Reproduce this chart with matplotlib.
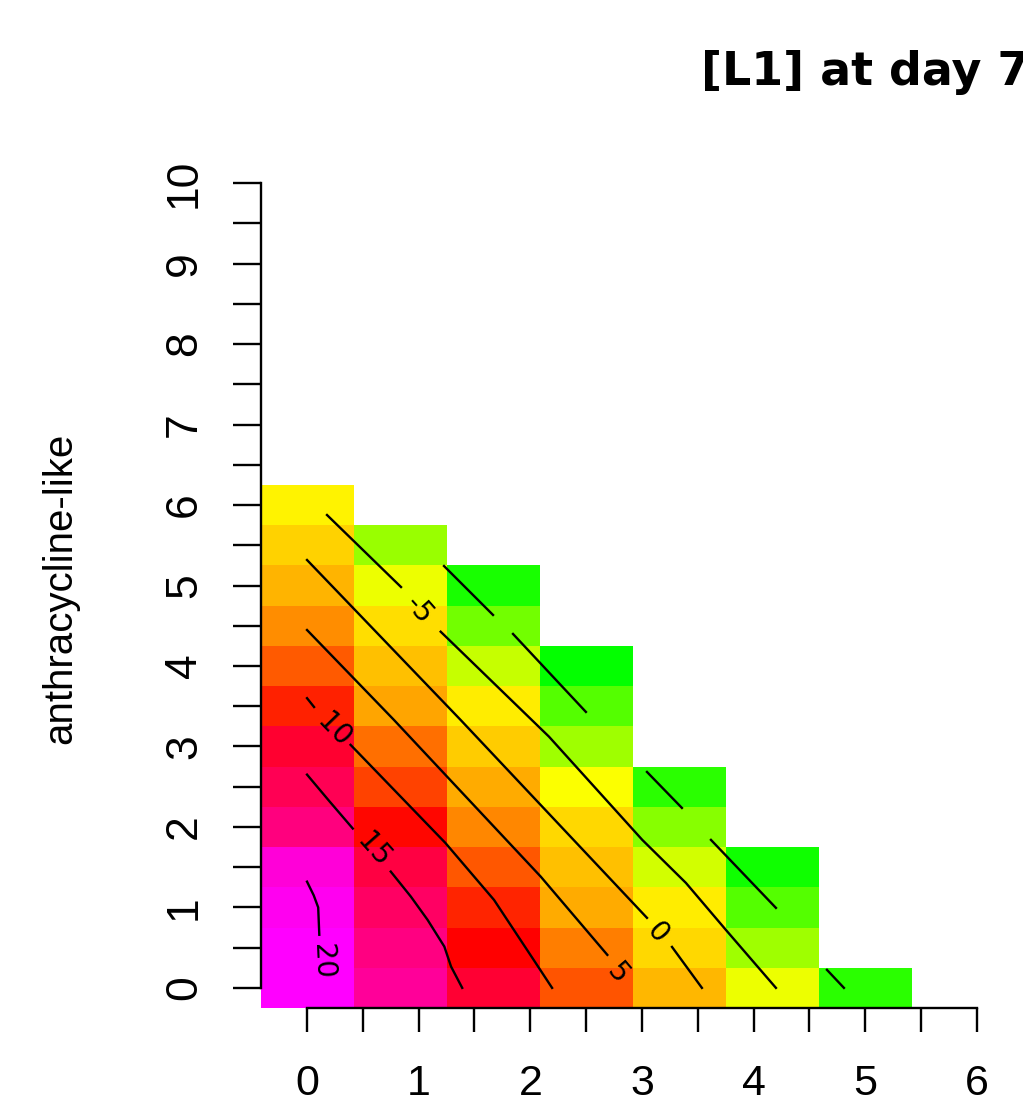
import numpy as np
import matplotlib
matplotlib.use("Agg")
import matplotlib.pyplot as plt
from matplotlib.colors import LinearSegmentedColormap

# dose grid (cell centres)
x_dose = [0.0, 0.833, 1.667, 2.5, 3.333, 4.167, 5.0]
y_dose = [0.0, 0.5, 1.0, 1.5, 2.0, 2.5, 3.0, 3.5, 4.0, 4.5, 5.0, 5.5, 6.0]

# [L1] at day 7, one list per x column, bottom -> top (cells above are empty)
L1_col0 = [20.0, 20.0, 19.4, 18.4, 14.9, 13.3, 11.9, 8.7, 6.5, 4.5, 3.0, 1.8, 0.5]
L1_col1 = [16.0, 15.0, 13.8, 12.6, 9.7, 7.4, 5.6, 3.5, 2.5, 1.3, -0.7, -4.0]
L1_col2 = [12.0, 10.0, 8.6, 6.6, 4.7, 3.3, 2.0, 0.7, -2.2, -5.5, -9.0]
L1_col3 = [6.7, 5.0, 3.3, 2.5, 1.5, -0.1, -3.7, -6.7, -9.8]
L1_col4 = [2.8, 1.6, 0.7, -1.7, -4.7, -8.3]
L1_col5 = [-0.7, -3.7, -6.7, -9.4]
L1_col6 = [-8.3]

# contour lines (label position, then the drawn pieces)
c20_lab = (0.137, 0.33)
c20 = [[(0.0, 1.32), (0.06, 1.15), (0.10, 1.0), (0.11, 0.66)]]
c15_lab = (0.60, 1.714)
c15 = [[(0.0, 2.65), (0.2, 2.32), (0.41, 1.98)],
       [(0.75, 1.445), (0.93, 1.134), (1.08, 0.845), (1.23, 0.513), (1.29, 0.265), (1.39, 0.0)]]
c10_lab = (0.242, 3.205)
c10 = [[(0.0, 3.60), (0.063, 3.49)],
       [(0.39, 3.02), (1.24, 1.80), (1.675, 1.093), (2.03, 0.348), (2.195, 0.0)]]
c5_lab = (2.779, 0.182)
c5 = [[(0.0, 4.447), (0.779, 3.329), (2.093, 1.383), (2.69, 0.41)]]
c0_lab = (3.134, 0.683)
c0 = [[(0.0, 5.317), (1.376, 3.329), (3.045, 0.87)],
      [(3.269, 0.509), (3.537, 0.0)]]
cm5_lab = (1.003, 4.696)
cm5 = [[(0.179, 5.876), (0.842, 4.981)],
       [(1.197, 4.426), (2.167, 3.122), (3.003, 1.839), (3.394, 1.304), (3.752, 0.72), (4.2, 0.0)]]
cm10 = [[(1.227, 5.242), (1.666, 4.634)], [(1.845, 4.398), (2.498, 3.429)],
        [(3.045, 2.683), (3.358, 2.236)], [(3.618, 1.839), (4.2, 0.994)],
        [(4.657, 0.224), (4.809, 0.0)]]

contours = [(20, c20, c20_lab), (15, c15, c15_lab), (10, c10, c10_lab), (5, c5, c5_lab),
            (0, c0, c0_lab), (-5, cm5, cm5_lab), (-10, cm10, None)]

W, H = 1023, 1107
fig = plt.figure(figsize=(W / 100, H / 100), dpi=100)
# plot region runs on past the right edge (the original is cropped there)
ax = fig.add_axes([260.5 / W, (H - 1008) / H, 1209.5 / W, 845 / H])

cols = [L1_col0, L1_col1, L1_col2, L1_col3, L1_col4, L1_col5, L1_col6]
Z = np.full((len(y_dose), len(x_dose)), np.nan)
for i, c in enumerate(cols):
    Z[:len(c), i] = c
xc, yc = np.array(x_dose), np.array(y_dose)
dx, dy = np.diff(xc).mean(), np.diff(yc).mean()
xe = np.r_[xc - dx / 2, xc[-1] + dx / 2]
ye = np.r_[yc - dy / 2, yc[-1] + dy / 2]
cmap = LinearSegmentedColormap.from_list("gyrm", ["#00ff00", "#ffff00", "#ff0000", "#ff00ff"])
ax.pcolormesh(xe, ye, np.ma.masked_invalid(Z), cmap=cmap, vmin=-10, vmax=20,
              shading="flat", antialiased=False, edgecolors="none")

ax.set_xlim(-0.4167, 10.4167)
ax.set_ylim(-0.25, 10.25)

for lev, pieces, lab in contours:
    for seg in pieces:
        p = np.array(seg)
        ax.plot(p[:, 0], p[:, 1], color="black", lw=1.7)
    if lab is None:
        continue
    pts = np.vstack([np.array(s) for s in pieces])
    near = pts[np.argsort(np.hypot(pts[:, 0] - lab[0], pts[:, 1] - lab[1]))[:2]]
    near = near[np.argsort(near[:, 0])]
    d = ax.transData.transform(near)
    ang = np.degrees(np.arctan2(d[1, 1] - d[0, 1], d[1, 0] - d[0, 0]))
    ax.text(lab[0], lab[1], str(lev), rotation=ang, rotation_mode="anchor",
            ha="center", va="center", fontsize=20, family="DejaVu Sans")

# R-style axes: lines only between first and last tick
for s in ["top", "right"]:
    ax.spines[s].set_visible(False)
ax.spines["bottom"].set_bounds(0, 6)
ax.spines["left"].set_bounds(0, 10)
for s in ["bottom", "left"]:
    ax.spines[s].set_linewidth(1.7)
ax.set_xticks(range(7))
ax.set_xticks(np.arange(0.5, 6, 1), minor=True)
ax.set_yticks(range(11))
ax.set_yticks(np.arange(0.5, 10, 1), minor=True)
ax.tick_params(axis="x", which="both", length=17, width=1.7, direction="out", pad=23)
ax.tick_params(axis="y", which="both", length=20, width=1.7, direction="out", pad=20)
for t in ax.get_xticklabels():
    t.set_fontsize(31); t.set_family("Liberation Sans")
for t in ax.get_yticklabels():
    t.set_fontsize(32); t.set_family("Liberation Sans"); t.set_rotation(90); t.set_va("center")

fig.text(60 / W, 1 - 588 / H, "anthracycline-like", rotation=90, ha="center", va="center",
         fontsize=29, family="Liberation Sans")
ax.set_title("[L1] at day 7", fontsize=33, fontweight="bold", family="DejaVu Sans", pad=56)

fig.savefig("out.png", dpi=100, facecolor="white")
